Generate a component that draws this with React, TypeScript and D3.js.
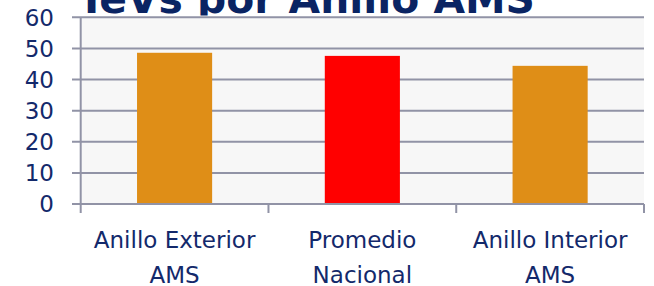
import React from "react";
import * as d3 from "d3";

const categories: string[][] = [
  ["Anillo Exterior", "AMS"],
  ["Promedio", "Nacional"],
  ["Anillo Interior", "AMS"],
];
const values: number[] = [48.6, 47.6, 44.4];
const barColors: string[] = ["#DF8E17", "#FF0000", "#DF8E17"];
const yTicks: number[] = [0, 10, 20, 30, 40, 50, 60];
const title = "IeVs por Anillo AMS";

const W = 654;
const H = 286;
const NAVY = "#13296b";
const GRID = "#9193a6";

export default function App() {
  const keys = categories.map((c) => c.join(" "));
  const x = d3
    .scaleBand<string>()
    .domain(keys)
    .range([80.7, 644])
    .paddingInner(0.6)
    .paddingOuter(0.3);
  const y = d3.scaleLinear().domain([0, 60]).range([204, 17.3]);
  const step = x.step();
  const boundaries = [0, 1, 2, 3].map((i) => 80.7 + i * step);

  return (
    <svg
      width={W}
      height={H}
      style={{ position: "fixed", left: 0, top: 0, background: "#fff" }}
      fontFamily="DejaVu Sans"
    >
      <defs>
        <clipPath id="titleClip">
          <rect x={0} y={0} width={W} height={15.5} />
        </clipPath>
      </defs>
      <g clipPath="url(#titleClip)">
        <text
          x={84}
          y={13}
          fontSize={41}
          fontWeight="bold"
          fill="#0a2463"
          textLength={451}
          lengthAdjust="spacingAndGlyphs"
        >
          {title}
        </text>
      </g>
      <rect
        x={80.7}
        y={y(60)}
        width={644 - 80.7}
        height={y(0) - y(60)}
        fill="#F7F7F7"
      />
      {yTicks.map((t) => (
        <g key={t}>
          <line x1={72} x2={644} y1={y(t)} y2={y(t)} stroke={GRID} strokeWidth={2} />
          <text
            x={54}
            y={y(t)}
            dy="0.36em"
            textAnchor="end"
            fontSize={23}
            fill={NAVY}
          >
            {t}
          </text>
        </g>
      ))}
      {keys.map((k, i) => (
        <rect
          key={k}
          x={x(k)}
          y={y(values[i])}
          width={x.bandwidth()}
          height={y(0) - y(values[i])}
          fill={barColors[i]}
        />
      ))}
      <line x1={80.7} x2={80.7} y1={y(60)} y2={y(0)} stroke={GRID} strokeWidth={2} />
      <line x1={72} x2={644} y1={y(0)} y2={y(0)} stroke={GRID} strokeWidth={2} />
      {boundaries.map((b, i) => (
        <line key={i} x1={b} x2={b} y1={y(0)} y2={213} stroke={GRID} strokeWidth={2} />
      ))}
      {keys.map((k, i) => (
        <text
          key={k}
          x={(x(k) as number) + x.bandwidth() / 2}
          textAnchor="middle"
          fontSize={23}
          fill={NAVY}
        >
          <tspan x={(x(k) as number) + x.bandwidth() / 2} y={247.5}>
            {categories[i][0]}
          </tspan>
          <tspan x={(x(k) as number) + x.bandwidth() / 2} y={283}>
            {categories[i][1]}
          </tspan>
        </text>
      ))}
    </svg>
  );
}
